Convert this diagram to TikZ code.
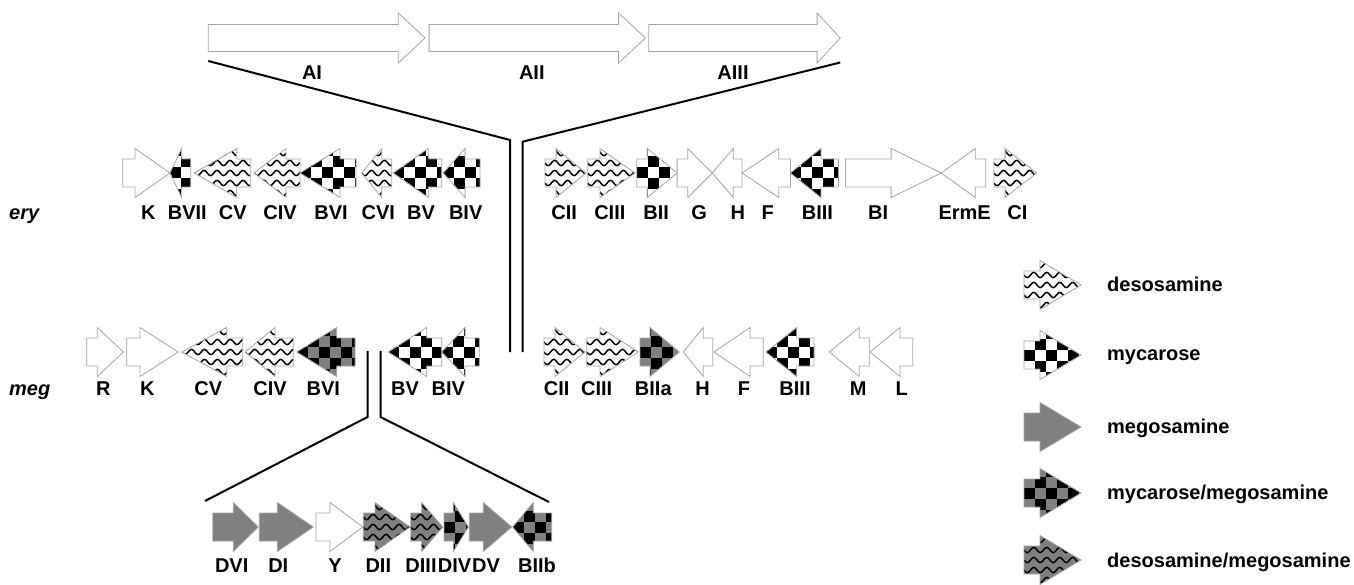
\documentclass[tikz,border=0pt]{standalone}
\usepackage{fontspec}
\setmainfont{Liberation Sans}
\definecolor{meggray}{RGB}{128,128,128}
\definecolor{outl}{RGB}{165,165,165}
\tikzset{
  geneline/.style={draw=outl, line width=0.8pt, line join=miter},
  waveline/.style={black, line width=1.5pt},
  lab/.style={font=\bfseries\fontsize{20}{23}\selectfont, anchor=base, inner sep=0pt},
  rowlab/.style={font=\bfseries\itshape\fontsize{20}{23}\selectfont, anchor=base west, inner sep=0pt},
  leglab/.style={font=\bfseries\fontsize{20}{23}\selectfont, anchor=base west, inner sep=0pt},
  conn/.style={black, line width=2pt, line join=miter},
}
\newcommand\bh{14}
\newcommand\hh{24.5}
\newcommand\sq{11}
\newcommand\checkfill[4]{%
  \fill[#4] (#1,#3-30) rectangle (#2,#3+30);
  \foreach \ci in {0,...,6}{\foreach \cj in {0,...,4}{%
    \pgfmathtruncatemacro\cp{mod(\ci+\cj,2)}%
    \ifnum\cp=0 \fill[black] ({#1+\ci*\sq},{#3-2.5*\sq+\cj*\sq}) rectangle ++(\sq,\sq);\fi
  }}%
}
\newcommand\wavefill[4]{%
  \fill[#4] (#1,#3-30) rectangle (#2,#3+30);
  \pgfmathsetmacro\ww{#2-#1}%
  \foreach \k in {-3,...,3}{%
    \draw[waveline] plot[domain=0:\ww, samples=50, smooth] ({#1+\x},{#3+\k*10+2.6*sin(\x*27.7)});
  }%
}
\newcommand\gfillw[3]{\fill[white] (#1,#3-30) rectangle (#2,#3+30);}
\newcommand\gfillg[3]{\fill[meggray] (#1,#3-30) rectangle (#2,#3+30);}
\newcommand\gfillm[3]{\checkfill{#1}{#2}{#3}{white}}
\newcommand\gfillmg[3]{\checkfill{#1}{#2}{#3}{meggray}}
\newcommand\gfilld[3]{\wavefill{#1}{#2}{#3}{white}}
\newcommand\gfilldg[3]{\wavefill{#1}{#2}{#3}{meggray}}
% #1 tail x, #2 head base x, #3 tip x, #4 centre y, #5 fill type
\newcommand\genearrow[5]{%
  \pgfmathsetmacro\gxa{min(#1,#3)}%
  \pgfmathsetmacro\gxb{max(#1,#3)}%
  \begin{scope}
    \clip (#1,#4-\bh) -- (#2,#4-\bh) -- (#2,#4-\hh) -- (#3,#4) -- (#2,#4+\hh) -- (#2,#4+\bh) -- (#1,#4+\bh) -- cycle;
    \csname gfill#5\endcsname{\gxa}{\gxb}{#4}%
  \end{scope}
  \draw[geneline] (#1,#4-\bh) -- (#2,#4-\bh) -- (#2,#4-\hh) -- (#3,#4) -- (#2,#4+\hh) -- (#2,#4+\bh) -- (#1,#4+\bh) -- cycle;
}
\begin{document}
\begin{tikzpicture}[x=1pt,y=-1pt]
\fill[white] (0,0) rectangle (1354,585);
\useasboundingbox (0,0) rectangle (1354,585);

% ---------- top PKS arrows ----------
\renewcommand\bh{13.5}\renewcommand\hh{25}
\genearrow{208.3}{398.3}{425}{38}{w}
\genearrow{429.1}{618.5}{645.4}{38}{w}
\genearrow{648.8}{817.1}{840.2}{38}{w}
\node[lab] (AI) at (312,80) {AI};
\node[lab] (AII) at (531.8,80) {AII};
\node[lab] (AIII) at (733,80) {AIII};

\renewcommand\bh{14}\renewcommand\hh{24.5}
% ---------- ery row ----------
\genearrow{122.7}{135}{170}{173}{w}
\genearrow{190.7}{181.7}{170}{173}{m}
\genearrow{250.7}{236.7}{194.3}{173}{d}
\genearrow{300}{286}{254}{173}{d}
\genearrow{356}{340}{300}{173}{m}
\genearrow{391.7}{381.7}{361.7}{173}{d}
\genearrow{441.7}{428.3}{393.3}{173}{m}
\genearrow{480}{465}{443.3}{173}{m}
\genearrow{544.9}{556.1}{585.9}{173}{d}
\genearrow{587.7}{600}{635}{173}{d}
\genearrow{636.8}{647.3}{677.1}{173}{m}
\genearrow{677.1}{687.7}{712.2}{173}{w}
\genearrow{742}{733.3}{712.2}{173}{w}
\genearrow{790.4}{778.8}{742}{173}{w}
\genearrow{838.5}{820.9}{790.4}{173}{m}
\genearrow{845.5}{891.1}{941.2}{173}{w}
\genearrow{985.8}{975.3}{941.2}{173}{w}
\genearrow{993.9}{1005.1}{1036.7}{173}{d}
\node[rowlab] (ery) at (9,220) {ery};
\foreach \n/\t/\xx in {eK/K/148.3, eBVII/BVII/187.3, eCV/CV/232.7, eCIV/CIV/280, eBVI/BVI/331,
  eCVI/CVI/378.3, eBV/BV/421, eBIV/BIV/465.7, eCII/CII/564.2, eCIII/CIII/609.8, eBII/BII/656.1,
  eG/G/699.2, eH/H/737.8, eF/F/767.6, eBIII/BIII/817.4, eBI/BI/878.1, eErmE/ErmE/964.7, eCI/CI/1017.4}
  {\node[lab] (\n) at (\xx,220) {\t};}

% ---------- meg row ----------
\genearrow{86.7}{97.3}{123.3}{352}{w}
\genearrow{126.7}{140}{178.3}{352}{w}
\genearrow{242.7}{226.7}{181.7}{352}{d}
\genearrow{293.3}{275}{245}{352}{d}
\genearrow{355}{336.7}{296.7}{352}{mg}
\genearrow{441.7}{426.7}{388.3}{352}{m}
\genearrow{479.3}{465}{441.7}{352}{m}
\genearrow{544}{555}{585}{352}{d}
\genearrow{586.7}{600}{638.3}{352}{d}
\genearrow{640}{650}{679.3}{352}{mg}
\genearrow{712.7}{703.3}{683.3}{352}{w}
\genearrow{763.3}{750}{714}{352}{w}
\genearrow{814}{796.7}{766}{352}{m}
\genearrow{869.3}{859.3}{829.3}{352}{w}
\genearrow{912.7}{900}{870}{352}{w}
\node[rowlab] (meg) at (9,395) {meg};
\foreach \n/\t/\xx in {mR/R/103.3, mK/K/147.3, mCV/CV/208.3, mCIV/CIV/270, mBVI/BVI/323.3,
  mBV/BV/405, mBIV/BIV/448.3, mCII/CII/556.7, mCIII/CIII/596.7, mBIIa/BIIa/653.3,
  mH/H/702.7, mF/F/744, mBIII/BIII/795, mM/M/858.3, mL/L/901.7}
  {\node[lab] (\n) at (\xx,395) {\t};}

% ---------- megosamine cluster ----------
\genearrow{212.7}{233.3}{258.3}{527}{g}
\genearrow{259.3}{277.3}{313.3}{527}{g}
\genearrow{316}{330}{362.7}{527}{w}
\genearrow{363.3}{375}{410}{527}{dg}
\genearrow{410.7}{421.7}{442.7}{527}{dg}
\genearrow{444}{453.3}{468.3}{527}{mg}
\genearrow{469.3}{483.3}{511.7}{527}{g}
\genearrow{551.7}{533.3}{512.7}{527}{mg}
\foreach \n/\t/\xx in {dDVI/DVI/231.7, dDI/DI/278.3, dY/Y/335, dDII/DII/378.3, dDIII/DIII/421,
  dDIV/DIV/454.5, dDV/DV/486, dBIIb/BIIb/537}
  {\node[lab] (\n) at (\xx,572) {\t};}

% ---------- connectors ----------
\coordinate (tl0) at (208.3,61);
\coordinate (tl1) at (510,140);
\coordinate (tl2) at (510,352);
\coordinate (tr0) at (840.2,62.5);
\coordinate (tr1) at (522.7,141.7);
\coordinate (tr2) at (522.7,352);
\draw[conn] (tl0) -- (tl1) -- (tl2);
\draw[conn] (tr0) -- (tr1) -- (tr2);
\coordinate (bl0) at (367.5,351);
\coordinate (bl1) at (367.5,417);
\coordinate (bl2) at (205,501);
\coordinate (br0) at (380.5,351);
\coordinate (br1) at (380.5,417);
\coordinate (br2) at (549,502);
\draw[conn] (bl0) -- (bl1) -- (bl2);
\draw[conn] (br0) -- (br1) -- (br2);

% ---------- legend ----------
\genearrow{1024}{1040}{1081}{285}{d}
\genearrow{1024}{1040}{1081}{355}{m}
\genearrow{1024}{1040}{1081}{427}{g}
\genearrow{1024}{1040}{1081}{493}{mg}
\genearrow{1024}{1040}{1081}{560}{dg}
\node[leglab] (Ld) at (1107,291) {desosamine};
\node[leglab] (Lm) at (1107,360) {mycarose};
\node[leglab] (Lg) at (1107,433) {megosamine};
\node[leglab] (Lmg) at (1107,499) {mycarose/megosamine};
\node[leglab] (Ldg) at (1107,567) {desosamine/megosamine};
\end{tikzpicture}
\end{document}
